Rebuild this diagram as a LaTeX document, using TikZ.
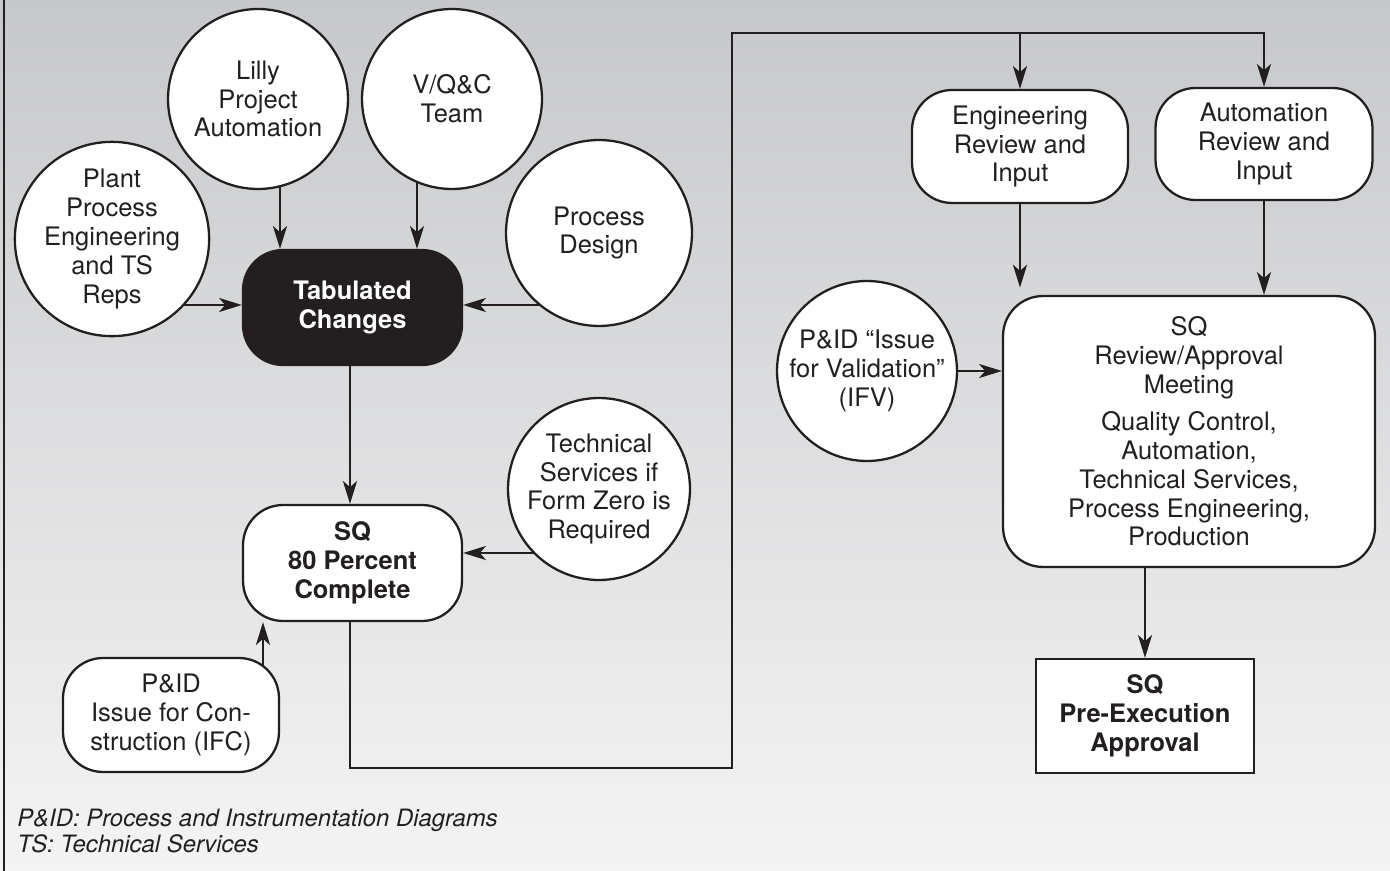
\documentclass[tikz,border=0pt]{standalone}
\usepackage{fontspec}
\setmainfont{TeX Gyre Heros}
\usetikzlibrary{arrows.meta}
\definecolor{ink}{HTML}{231F20}
\definecolor{bgtop}{HTML}{C7C8CB}
\definecolor{bgbot}{HTML}{F4F4F4}
\newcommand\diagfont{\fontsize{14.5}{16.44}\selectfont}
\pgfdeclarelayer{bg}
\pgfdeclarelayer{edges}
\pgfsetlayers{bg,edges,main}
\begin{document}
\begin{tikzpicture}[x=0.02cm,y=-0.02cm,
  circ/.style={circle, draw=ink, fill=white, line width=1.3pt, inner sep=0pt,
    align=center, text=ink, font=\diagfont},
  rbox/.style={rectangle, rounded corners=0.8cm, draw=ink, fill=white,
    line width=1.3pt, inner sep=0pt, align=center, text=ink, font=\diagfont},
  sbox/.style={rectangle, draw=ink, fill=white, line width=1.3pt, inner sep=0pt,
    align=center, text=ink, font=\diagfont\bfseries},
  arr/.style={draw=ink, line width=1.25pt, -{Stealth[length=13pt,width=8pt,inset=3.5pt]}},
  link/.style={draw=ink, line width=1.25pt}]
\useasboundingbox (0,0) rectangle (1390,871);
\begin{pgfonlayer}{bg}
  \shade[top color=bgtop, bottom color=bgbot] (0,0) rectangle (1390,871);
  \draw[ink, line width=1.3pt] (4,0) -- (4,871);
\end{pgfonlayer}

% input circles
\node[circ, minimum size=3.6cm]  (lilly)  at (258,99)  {Lilly\\Project\\Automation};
\node[circ, minimum size=3.6cm]  (vqc)    at (452,99)  {V/Q\&C\\Team};
\node[circ, minimum size=3.68cm] (plant)  at (112,239) {Plant\\Process\\Engineering\\and TS\\Reps};
\node[circ, minimum size=3.72cm] (design) at (599,233) {Process\\Design};
\node[circ, minimum size=3.64cm] (tech)   at (599,489) {Technical\\Services if\\Form Zero is\\Required};
\node[circ, minimum size=3.6cm]  (ifv)    at (867,371) {P\&ID “Issue\\for Validation”\\(IFV)};

% process boxes
\node[rbox, fill=ink, text=white, font=\diagfont\bfseries,
      minimum width=4.38cm, minimum height=2.3cm] (tab) at (352.5,307.5) {Tabulated\\Changes};
\node[rbox, font=\diagfont\bfseries, minimum width=4.38cm, minimum height=2.32cm]
      (sq80) at (352.5,563) {SQ\\80 Percent\\Complete};
\node[rbox, minimum width=4.32cm, minimum height=2.28cm] (ifc) at (171,715)
      {P\&ID\\Issue for Con-\\struction (IFC)};
\node[rbox, minimum width=4.32cm, minimum height=2.26cm] (eng) at (1020,146.5)
      {Engineering\\Review and\\Input};
\node[rbox, minimum width=4.34cm, minimum height=2.24cm] (auto) at (1264,144)
      {Automation\\Review and\\Input};
\node[rbox, minimum width=7.44cm, minimum height=5.42cm] (review) at (1189,431.5)
      {SQ\\Review/Approval\\Meeting\\[0.16cm]Quality Control,\\Automation,\\Technical Services,\\Process Engineering,\\Production};
\node[sbox, minimum width=4.36cm, minimum height=2.28cm] (pre) at (1145,716)
      {SQ\\Pre-Execution\\Approval};

% legend
\node[anchor=west, align=left, inner sep=0pt, text=ink,
      font=\fontsize{13.6}{15.3}\selectfont\itshape] (legend) at (17,831)
      {P\&ID: Process and Instrumentation Diagrams\\TS: Technical Services};

% connector guides
\coordinate (xa) at (280,0);
\coordinate (xb) at (417,0);
\coordinate (xc) at (263,0);
\coordinate (xm) at (350,0);
\coordinate (ya) at (0,305);
\coordinate (yb) at (0,553);
\coordinate (c1) at (350,768);
\coordinate (c2) at (732,33);
\coordinate (c4) at (1020,33);

\begin{pgfonlayer}{edges}
  \draw[arr] (lilly.center -| xa) -- (tab.north -| xa);
  \draw[arr] (vqc.center -| xb) -- (tab.north -| xb);
  \draw[arr] (plant.center |- ya) -- (tab.west |- ya);
  \draw[arr] (design.center |- ya) -- (tab.east |- ya);
  \draw[arr] (tab.center -| xm) -- (sq80.north -| xm);
  \draw[arr] (tech.center |- yb) -- (sq80.east |- yb);
  \draw[arr] (ifc.center -| xc) -- (sq80.south -| xc);
  \draw[arr] (sq80.center -| c1) -- (c1) -| (c2) -| (auto.north);
  \draw[arr] (c4) -- (eng.north);
  \draw[arr, shorten >=0.146cm] (eng.center) -- (eng.center |- review.north);
  \draw[arr] (auto.center) -- (auto.center |- review.north);
  \draw[arr] (ifv.center) -- (ifv.center -| review.west);
  \draw[arr] (review.center -| pre.north) -- (pre.north);
\end{pgfonlayer}
\end{tikzpicture}
\end{document}
